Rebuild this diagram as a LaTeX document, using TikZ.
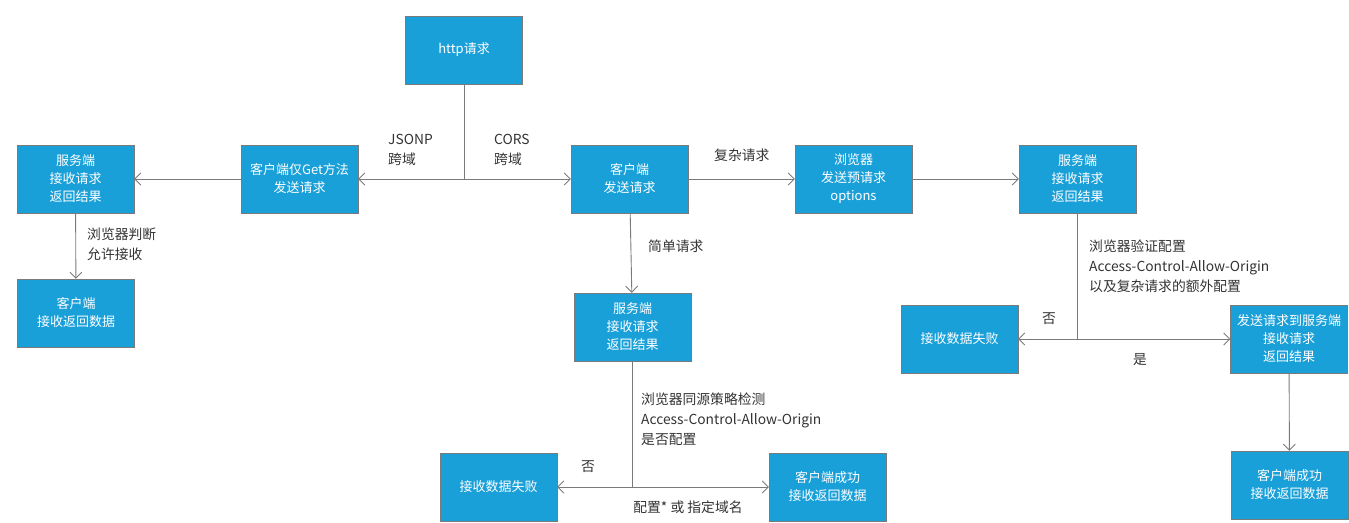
\documentclass[tikz,border=0pt]{standalone}
\usepackage{fontspec}
\setmainfont{Noto Sans CJK SC}
\usepackage{tikz}
\usetikzlibrary{arrows.meta,positioning}

\definecolor{boxblue}{RGB}{26,160,217}
\definecolor{edgegray}{RGB}{122,122,122}
\definecolor{textgray}{RGB}{51,51,51}

\begin{document}
\begin{tikzpicture}[
  x = 1pt, y = -1pt,
  > = {Straight Barb[length=6pt,width=12pt]},
  box/.style = {rectangle, draw=edgegray, fill=boxblue, text=white,
                minimum width=117pt, minimum height=68pt,
                align=center, inner sep=2pt,
                font=\fontsize{13}{18}\selectfont},
  lbl/.style = {align=left, inner sep=0pt, text=textgray,
                font=\fontsize{13.8}{20}\selectfont},
  link/.style = {draw=edgegray, line width=0.9pt}
]
\useasboundingbox (0,0) rectangle (1349,522);

% top and first row
\node[box] (http)   at (464,50)    {http请求};
\node[box] (getreq) at (299.5,179) {客户端仅Get方法\\发送请求};
\node[box] (srvL)   at (75.5,179)  {服务端\\接收请求\\返回结果};
\node[box] (cliL)   at (76,313)    {客户端\\接收返回数据};
\node[box] (send)   at (629.5,179) {客户端\\发送请求};
\node[box] (pre)    at (853.5,179) {浏览器\\发送预请求\\options};
\node[box] (srvR)   at (1077.5,179) {服务端\\接收请求\\返回结果};

% lower rows
\node[box] (srvM)   at (632.5,327) {服务端\\接收请求\\返回结果};
\node[box] (fail1)  at (959.5,339) {接收数据失败};
\node[box] (ok1)    at (1289,339)  {发送请求到服务端\\接收请求\\返回结果};
\node[box] (done1)  at (1289.5,485) {客户端成功\\接收返回数据};
\node[box] (fail2)  at (498.5,487) {接收数据失败};
\node[box] (ok2)    at (827.5,487) {客户端成功\\接收返回数据};

\coordinate (chk1) at (srvR.south |- fail1.east);
\coordinate (chk2) at (srvM.south |- fail2.east);

% connectors
\draw[link,->] (http) |- (getreq);
\draw[link,->] (http) |- (send);
\draw[link,->] (getreq) -- (srvL);
\draw[link,->] (srvL) -- (cliL);
\draw[link,->] (send) -- (pre);
\draw[link,->] (pre) -- (srvR);
\draw[link,->] (send) -- (srvM);
\draw[link] (srvR) -- (chk1);
\draw[link,->] (chk1) -- (fail1);
\draw[link,->] (chk1) -- (ok1);
\draw[link,->] (ok1) -- (done1);
\draw[link] (srvM) -- (chk2);
\draw[link,->] (chk2) -- (fail2);
\draw[link,->] (chk2) -- (ok2);

% labels
\node[lbl, anchor=west] (lJsonp) at (388,150) {JSONP\\跨域};
\node[lbl, anchor=west] (lCors)  at (494,150) {CORS\\跨域};
\node[lbl, anchor=west] (lAllow) at (87,244)  {浏览器判断\\允许接收};
\node[lbl, anchor=west] (lComp)  at (714,155) {复杂请求};
\node[lbl, anchor=west] (lSimp)  at (648,246) {简单请求};
\node[lbl, anchor=west] (lVerify) at (1089,266)
  {浏览器验证配置\\Access-Control-Allow-Origin\\以及复杂请求的额外配置};
\node[lbl] (lNo1)  at (1049,319) {否};
\node[lbl] (lYes1) at (1140,360) {是};
\node[lbl, anchor=west] (lSame) at (641,419)
  {浏览器同源策略检测\\Access-Control-Allow-Origin\\是否配置};
\node[lbl] (lNo2)  at (588,467) {否};
\node[lbl] (lYes2) at (688,507) {配置* 或 指定域名};
\end{tikzpicture}
\end{document}
